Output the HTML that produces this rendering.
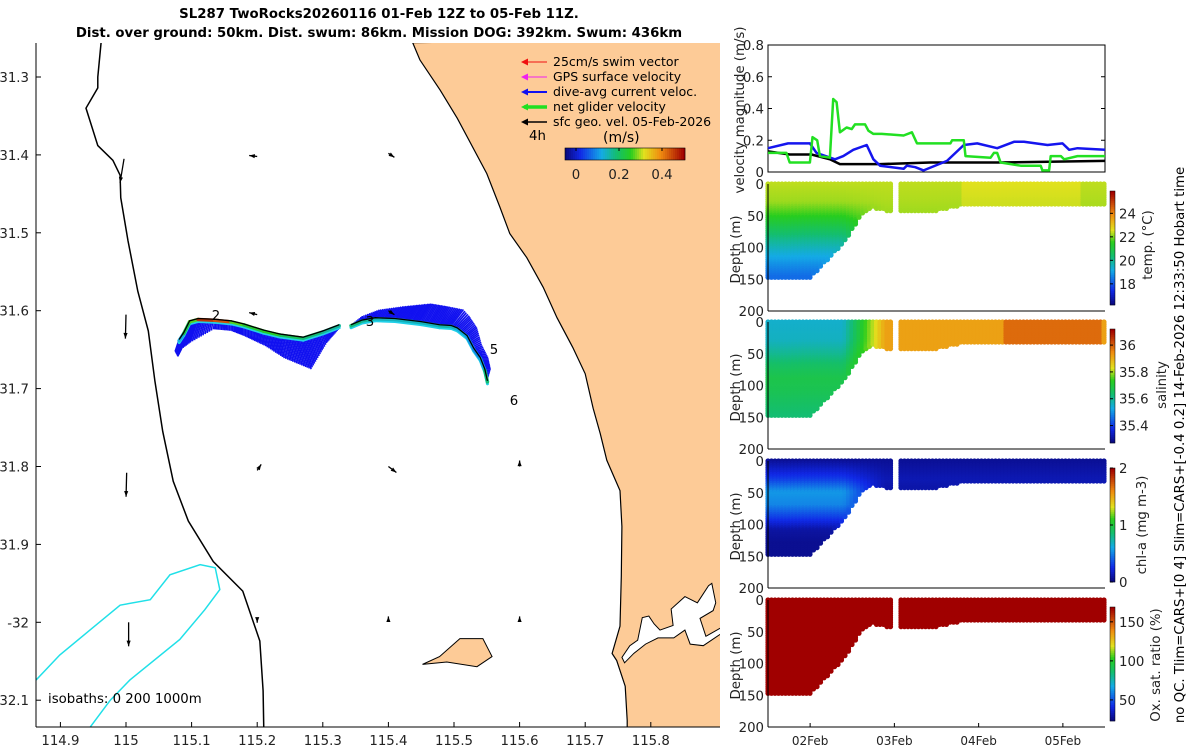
<!DOCTYPE html>
<html><head><meta charset="utf-8">
<style>
body{margin:0;background:#fff;}
svg{display:block;font-family:"DejaVu Sans","Liberation Sans",sans-serif;}
</style></head>
<body>
<svg id="fig" width="1200" height="750" viewBox="0 0 1200 750" xmlns="http://www.w3.org/2000/svg">
<g font-weight="bold" font-size="13.3" text-anchor="middle" fill="#000">
<text x="379" y="18">SL287 TwoRocks20260116 01-Feb 12Z to 05-Feb 11Z.</text>
<text x="379" y="37">Dist. over ground: 50km. Dist. swum: 86km. Mission DOG: 392km. Swum: 436km</text>
</g>
<g id="map"></g>
<g id="vel"></g>
<g id="sec"></g>
<text transform="translate(1184,445) rotate(-90)" text-anchor="middle" font-size="13.3">no QC. Tlim=CARS+[0 4] Slim=CARS+[-0.4 0.2] 14-Feb-2026 12:33:50 Hobart time</text>
</svg>
<script>
const NS="http://www.w3.org/2000/svg";
function mk(parent,tag,attrs,text){const e=document.createElementNS(NS,tag);for(const k in attrs)e.setAttribute(k,attrs[k]);if(text!==undefined)e.textContent=text;parent.appendChild(e);return e;}
const FS=13.3;
// ---------- MAP DATA ----------
const lonTicks=[114.9,115,115.1,115.2,115.3,115.4,115.5,115.6,115.7,115.8];
const latTicks=[31.3,31.4,31.5,31.6,31.7,31.8,31.9,32.0,32.1];
const latLabels=["31.3","31.4","31.5","31.6","31.7","31.8","31.9","-32","32.1"];
const coastLon=[115.437,115.448,115.479,115.505,115.550,115.570,115.585,115.611,115.636,115.657,115.681,115.700,115.712,115.723,115.733,115.753,115.756,115.755,115.753,115.741,115.748,115.761,115.764,115.764];
const coastLat=[31.256,31.278,31.317,31.353,31.424,31.467,31.501,31.532,31.570,31.609,31.647,31.681,31.725,31.758,31.792,31.831,31.877,31.941,32.005,32.040,32.049,32.082,32.126,32.16];
const rottLon=[115.452,115.478,115.509,115.544,115.558,115.535,115.489];
const rottLat=[32.054,32.044,32.021,32.021,32.044,32.057,32.051];
const estLon=[115.756,115.768,115.780,115.787,115.797,115.805,115.814,115.834,115.831,115.852,115.871,115.888,115.893,115.899,115.895,115.875,115.884,115.909,115.910,115.880,115.860,115.852,115.835,115.811,115.792,115.774,115.760];
const estLat=[32.045,32.030,32.023,31.994,31.992,32.002,32.010,32.004,31.983,31.967,31.975,31.953,31.950,31.975,31.985,31.995,32.018,32.006,32.013,32.030,32.028,32.010,32.020,32.020,32.028,32.040,32.052];
const iso200Lon=[114.962,114.957,114.957,114.939,114.957,114.980,114.991,114.992,115.003,115.018,115.034,115.044,115.056,115.072,115.095,115.133,115.178,115.204,115.209,115.210];
const iso200Lat=[31.256,31.300,31.314,31.340,31.388,31.407,31.426,31.455,31.510,31.575,31.626,31.690,31.755,31.819,31.870,31.922,31.960,32.024,32.088,32.136];
const iso1000Lon=[114.863,114.899,114.945,114.991,115.037,115.067,115.113,115.136,115.143,115.120,115.082,115.006,114.976,114.945];
const iso1000Lat=[32.074,32.042,32.010,31.978,31.971,31.939,31.926,31.930,31.958,31.984,32.022,32.074,32.100,32.135];
const trackLon=[115.081,115.088,115.097,115.110,115.135,115.160,115.180,115.210,115.235,115.270,115.300,115.325];
const trackLat=[31.637,31.628,31.613,31.610,31.611,31.613,31.617,31.625,31.630,31.634,31.626,31.618];
const trackSpd=[0.12,0.16,0.25,0.30,0.48,0.46,0.30,0.27,0.28,0.24,0.22,0.20];
const trackU=[-0.02,-0.03,-0.04,-0.04,-0.005,0.0,0.0,0.01,0.02,0.04,0.02,0.0];
const trackV=[-0.06,-0.12,-0.14,-0.12,-0.05,-0.05,-0.06,-0.08,-0.12,-0.16,-0.06,-0.02];
const track2Lon=[115.343,115.360,115.380,115.410,115.450,115.478,115.496,115.505,115.520,115.530,115.540,115.547,115.551];
const track2Lat=[31.618,31.612,31.609,31.610,31.614,31.618,31.619,31.622,31.632,31.648,31.660,31.675,31.690];
const track2Spd=[0.22,0.22,0.20,0.18,0.18,0.18,0.19,0.18,0.16,0.14,0.13,0.16,0.22];
const track2U=[0.0,0.0,0.02,0.04,0.05,0.05,0.06,0.06,0.05,0.04,0.04,0.03,0.0];
const track2V=[0.0,0.02,0.04,0.06,0.09,0.09,0.08,0.06,0.04,0.02,0.0,0.0,0.0];
const geoLon=[114.997,115.2,115.4,115.0,115.2,115.4,115.001,115.2,115.4,115.6,115.004,115.2,115.4,115.6];
const geoLat=[31.405,31.402,31.398,31.605,31.605,31.6,31.808,31.805,31.8,31.8,32.0,31.998,31.995,31.995];
const geoU=[-0.02,-0.04,0.03,-0.003,-0.04,0.03,-0.003,0.02,0.04,0.0,0.0,0.0,0.0,0.0];
const geoV=[-0.12,0.005,-0.02,-0.12,0.01,-0.02,-0.12,0.03,-0.03,0.03,-0.12,-0.01,0.01,0.01];

const X0=36,X1=720,Y0=43,Y1=727;
const lx=l=>126+(l-115)*656;
const ly=l=>77+(l-31.3)*779;
function jet(t){t=Math.max(0,Math.min(1,t));
 const s=[[0,[10,10,128]],[0.12,[16,40,230]],[0.3,[20,170,230]],[0.43,[20,190,110]],[0.55,[40,205,30]],[0.66,[225,225,30]],[0.8,[240,140,16]],[1,[160,0,0]]];
 for(let i=1;i<s.length;i++){if(t<=s[i][0]){const a=s[i-1],b=s[i],f=(t-a[0])/(b[0]-a[0]);return `rgb(${[0,1,2].map(k=>Math.round(a[1][k]+(b[1][k]-a[1][k])*f)).join(',')})`;}}return 'rgb(160,0,0)';}
function interp(xs,ys,x){if(x<=xs[0])return ys[0];for(let i=1;i<xs.length;i++)if(x<=xs[i]){const f=(x-xs[i-1])/(xs[i]-xs[i-1]);return ys[i-1]+(ys[i]-ys[i-1])*f;}return ys[ys.length-1];}

const map=document.getElementById('map');
const defs=mk(map,'defs',{});
const cp=mk(defs,'clipPath',{id:'mapclip'});mk(cp,'rect',{x:X0,y:Y0,width:X1-X0,height:Y1-Y0});
const mg=mk(map,'g',{'clip-path':'url(#mapclip)'});
let pts=coastLon.map((l,i)=>lx(l).toFixed(1)+','+ly(coastLat[i]).toFixed(1)).join(' ')+` ${X1+5},${Y1+30} ${X1+5},${Y0-5}`;
const land=mk(mg,'polygon',{points:pts,fill:'#fdcb97',stroke:'#000','stroke-width':1.2});

const est=mk(mg,'polygon',{points:estLon.map((l,i)=>lx(l)+','+ly(estLat[i])).join(' '),fill:'#fff',stroke:'#000','stroke-width':1});

const rot=mk(mg,'polygon',{points:rottLon.map((l,i)=>lx(l)+','+ly(rottLat[i])).join(' '),fill:'#fdcb97',stroke:'#000','stroke-width':1});

const i200=mk(mg,'polyline',{points:iso200Lon.map((l,i)=>lx(l)+','+ly(iso200Lat[i])).join(' '),fill:'none',stroke:'#000','stroke-width':1.5});

const i1000=mk(mg,'polyline',{points:iso1000Lon.map((l,i)=>lx(l)+','+ly(iso1000Lat[i])).join(' '),fill:'none',stroke:'#20e0e8','stroke-width':1.5});


function drawTrack(lons,lats,spd,us,vs,name){
 const g=mk(mg,'g',{});
 const xs=lons.map(lx),ys=lats.map(ly);
 for(let i=1;i<xs.length;i++){
  const n=Math.max(2,Math.round(Math.hypot(xs[i]-xs[i-1],ys[i]-ys[i-1])/1.5));
  for(let k=0;k<n;k++){const f=k/n;
   const x=xs[i-1]+(xs[i]-xs[i-1])*f,y=ys[i-1]+(ys[i]-ys[i-1])*f;
   const u=us[i-1]+(us[i]-us[i-1])*f,v=vs[i-1]+(vs[i]-vs[i-1])*f;
   mk(g,'line',{x1:x.toFixed(1),y1:y.toFixed(1),x2:(x+u*200).toFixed(1),y2:(y-v*200).toFixed(1),stroke:'#1010f0','stroke-width':1.6});
  }
 }
 for(let i=1;i<lons.length;i++){
  mk(g,'line',{x1:xs[i-1],y1:ys[i-1]+3,x2:xs[i],y2:ys[i]+3,stroke:'#20d0e8','stroke-width':3,'stroke-linecap':'round'});
 }
 for(let i=1;i<lons.length;i++){
  mk(g,'line',{x1:xs[i-1],y1:ys[i-1]+1,x2:xs[i],y2:ys[i]+1,stroke:jet(spd[i]/0.52),'stroke-width':3.5,'stroke-linecap':'round'});
 }
 mk(g,'polyline',{points:xs.map((x,i)=>x+','+ys[i]).join(' '),fill:'none',stroke:'#000','stroke-width':1.3});
}
drawTrack(trackLon,trackLat,trackSpd,trackU,trackV,'track-west');
drawTrack(track2Lon,track2Lat,track2Spd,track2U,track2V,'track-east');

for(let i=0;i<geoLon.length;i++){
 const x=lx(geoLon[i]),y=ly(geoLat[i]),x2=x+geoU[i]*200,y2=y-geoV[i]*200;
 const a=mk(mg,'g',{});
 
 
 mk(a,'line',{x1:x,y1:y,x2:x2,y2:y2,stroke:'#000','stroke-width':1.3});
 const ang=Math.atan2(y2-y,x2-x),h=6;
 mk(a,'polygon',{points:`${x2},${y2} ${x2-h*Math.cos(ang-0.35)},${y2-h*Math.sin(ang-0.35)} ${x2-h*Math.cos(ang+0.35)},${y2-h*Math.sin(ang+0.35)}`,fill:'#000'});
}
[["2",216,320],["3",370,326],["5",494,354],["6",514,405]].forEach(d=>{const t=mk(mg,'text',{x:d[1],y:d[2],'font-size':FS,'text-anchor':'middle'},d[0]);});
mk(mg,'text',{x:48,y:703,'font-size':FS},'isobaths: 0   200  1000m');

const lg=mk(map,'g',{});
[["25cm/s swim vector","#f01010",1],["GPS surface velocity","#f020f0",1],["dive-avg current veloc.","#1010f0",2],["net glider velocity","#20e020",3.5],["sfc geo. vel. 05-Feb-2026","#000",1.5]].forEach((e,i)=>{
 const y=62+i*15;const it=mk(lg,'g',{});
 mk(it,'line',{x1:524,y1:y,x2:547,y2:y,stroke:e[1],'stroke-width':e[2]});
 mk(it,'polygon',{points:`521,${y} 528,${y-3.5} 528,${y+3.5}`,fill:e[1]});
 mk(it,'text',{x:553,y:y+4,'font-size':12.5},e[0]);
});
mk(lg,'text',{x:529,y:140,'font-size':FS},'4h');
mk(lg,'text',{x:603,y:142,'font-size':14},'(m/s)');
for(let i=0;i<60;i++)mk(lg,'rect',{x:565+i*2,y:148,width:2.2,height:12,fill:jet(i/59)});
mk(lg,'rect',{x:565,y:148,width:120,height:12,fill:'none',stroke:'#000','stroke-width':0.6});
[["0",576],["0.2",619],["0.4",662]].forEach(t=>{mk(lg,'line',{x1:t[1],y1:148,x2:t[1],y2:151,stroke:'#000'});mk(lg,'text',{x:t[1],y:179,'font-size':FS,'text-anchor':'middle',fill:'#222'},t[0]);});

const ax=mk(map,'g',{});
mk(ax,'line',{x1:X0,y1:Y0,x2:X0,y2:Y1,stroke:'#000'});
mk(ax,'line',{x1:X0,y1:Y1,x2:X1,y2:Y1,stroke:'#000'});
lonTicks.forEach(l=>{const x=lx(l);mk(ax,'line',{x1:x,y1:Y1,x2:x,y2:Y1-5,stroke:'#000'});mk(ax,'text',{x:x,y:745,'font-size':FS,'text-anchor':'middle',fill:'#222'},String(l));});
latTicks.forEach((l,i)=>{const y=ly(l);mk(ax,'line',{x1:X0,y1:y,x2:X0+5,y2:y,stroke:'#000'});mk(ax,'text',{x:29,y:y+5,'font-size':FS,'text-anchor':'end',fill:'#222'},latLabels[i]);});

// ---------- VELOCITY PANEL ----------
const velTicks=[0,0.2,0.4,0.6,0.8];
const greenT=[0,0.218,0.258,0.497,0.528,0.584,0.616,0.735,0.774,0.814,0.854,0.933,0.993,1.033,1.152,1.192,1.251,1.35,1.609,1.708,1.768,2.165,2.185,2.324,2.344,2.642,2.681,2.721,2.761,2.999,3.237,3.257,3.337,3.356,3.476,3.515,3.674,4.0];
const greenV=[0.12,0.12,0.06,0.06,0.22,0.2,0.1,0.09,0.46,0.44,0.25,0.28,0.27,0.3,0.3,0.26,0.24,0.24,0.23,0.25,0.18,0.18,0.2,0.2,0.1,0.09,0.12,0.12,0.06,0.04,0.04,0.01,0.01,0.1,0.1,0.08,0.1,0.1];
const blueT=[0,0.238,0.497,0.576,0.795,0.894,1.013,1.172,1.251,1.33,1.609,1.648,1.748,1.847,2.125,2.324,2.483,2.721,2.92,3.039,3.317,3.496,3.575,3.674,4.0];
const blueV=[0.15,0.18,0.18,0.12,0.08,0.1,0.14,0.17,0.08,0.04,0.02,0.04,0.03,0.01,0.07,0.17,0.18,0.15,0.19,0.19,0.17,0.18,0.14,0.15,0.14];
const blackT=[0,0.258,0.516,0.735,0.854,1.33,1.927,2.721,4.0];
const blackV=[0.13,0.11,0.11,0.08,0.05,0.05,0.06,0.06,0.07];
const PX0=768,PX1=1105;
const tx=t=>PX0+t/4*(PX1-PX0);
const vel=document.getElementById('vel');
const vy=v=>172-v/0.8*127;
mk(vel,'rect',{x:PX0,y:45,width:PX1-PX0,height:127,fill:'#fff',stroke:'#000'});
velTicks.forEach(v=>{mk(vel,'line',{x1:PX0,y1:vy(v),x2:PX0+4,y2:vy(v),stroke:'#000'});mk(vel,'line',{x1:PX1,y1:vy(v),x2:PX1-4,y2:vy(v),stroke:'#000'});mk(vel,'text',{x:764,y:vy(v)+5,'font-size':FS,'text-anchor':'end',fill:'#222'},String(v));});
[[blackT,blackV,'#000','black-geo-line'],[blueT,blueV,'#1515ee','blue-current-line'],[greenT,greenV,'#22e022','green-glider-line']].forEach(s=>{
 const p=mk(vel,'polyline',{points:s[0].map((t,i)=>tx(t).toFixed(1)+','+vy(s[1][i]).toFixed(1)).join(' '),fill:'none',stroke:s[2],'stroke-width':2.5,'stroke-linejoin':'round'});
 
});
mk(vel,'text',{transform:'translate(744,110) rotate(-90)','font-size':FS,'text-anchor':'middle',fill:'#222'},'velocity magnitude (m/s)');

// ---------- SECTION PANELS ----------
const bottomT=[0,0.5,0.536,0.735,0.93,1.05,1.13,1.25,1.49];
const bottomD=[150,148,143,115,88,62,44,38,44];
const bottom2T=[1.57,1.9,2.32,4.0];
const bottom2D=[45,45,33,33];
const depthTicks=[0,50,100,150,200];
const dayTicks=[0.5,1.5,2.5,3.5];
const dayLabels=["02Feb","03Feb","04Feb","05Feb"];
const profD=[0,30,50,70,90,110,130,150];
const tempEarly=[22.4,22.2,21.6,20.8,20.0,19.3,18.7,18.2];
const tempLate=[22.4,22.3,22.2,22.2,22.2,22.2,22.2,22.2];
const salEarly=[35.55,35.56,35.60,35.65,35.68,35.67,35.65,35.63];
const salLate=[35.92,35.92,35.92,35.92,35.92,35.92,35.92,35.92];
const chlEarly=[0.05,0.3,0.55,0.5,0.3,0.08,0.04,0.04];
const chlLate=[0.05,0.12,0.08,0.05,0.05,0.05,0.05,0.05];
const oxEarly=[170,170,170,170,170,170,170,170];
const oxLate=[170,170,170,170,170,170,170,170];

function bottomAt(t){if(t<=1.49)return interp(bottomT,bottomD,t);if(t<1.57)return -1;return interp(bottom2T,bottom2D,t);}
const sec=document.getElementById('sec');
const panels=[
 {y0:184,name:'temperature-section',early:tempEarly,late:tempLate,lo:16.2,hi:25.9,ticks:[18,20,22,24],label:'temp. (°C)',lx:1152,ly:245},
 {y0:322,name:'salinity-section',early:salEarly,late:salLate,lo:35.27,hi:36.12,ticks:[35.4,35.6,35.8,36],label:'salinity',lx:1166,ly:385},
 {y0:461,name:'chlorophyll-section',early:chlEarly,late:chlLate,lo:0,hi:2,ticks:[0,1,2],label:'chl-a (mg m-3)',lx:1146,ly:525},
 {y0:600,name:'oxygen-section',early:oxEarly,late:oxLate,lo:23,hi:169,ticks:[50,100,150],label:'Ox. sat. ratio (%)',lx:1160,ly:665}
];
panels.forEach((p,pi)=>{
 const g=mk(sec,'g',{});
 const H=127,dy=d=>p.y0+d/200*H;
 const dots=mk(g,'g',{});
 for(let px=PX0;px<=PX1;px+=3.5){
  const t=(px-PX0)/(PX1-PX0)*4;const bd=bottomAt(t);if(bd<0)continue;
  const w=Math.max(0,Math.min(1,(t-0.9)/0.5));
  for(let d=0;d<=bd;d+=3.5){
   let v=interp(profD,p.early,d)*(1-w)+interp(profD,p.late,d)*w;
   if(pi===0&&t>2.3&&t<3.7)v+=0.2;
   if(pi===1&&t>2.8&&t<3.95)v+=0.07;
   mk(dots,'circle',{cx:px.toFixed(1),cy:dy(d).toFixed(1),r:2.6,fill:jet((v-p.lo)/(p.hi-p.lo))});
  }
 }
 mk(g,'line',{x1:PX0,y1:p.y0+H,x2:PX1,y2:p.y0+H,stroke:'#000'});
 mk(g,'line',{x1:PX0,y1:p.y0,x2:PX0,y2:p.y0+H,stroke:'#000'});
 depthTicks.forEach(d=>{mk(g,'text',{x:764,y:dy(d)+5,'font-size':FS,'text-anchor':'end',fill:'#222'},String(d));});
 mk(g,'text',{transform:`translate(740,${p.y0+H/2+2}) rotate(-90)`,'font-size':FS,'text-anchor':'middle',fill:'#222'},'Depth (m)');
 const cb=mk(g,'g',{});
 const cy0=p.y0+7,cy1=p.y0+121;
 for(let i=0;i<57;i++)mk(cb,'rect',{x:1110,y:cy1-(i+1)*2,width:5,height:2.2,fill:jet(i/56)});
 mk(cb,'rect',{x:1110,y:cy0,width:5,height:cy1-cy0,fill:'none',stroke:'#000','stroke-width':0.5});
 p.ticks.forEach(v=>{const y=cy1-(v-p.lo)/(p.hi-p.lo)*(cy1-cy0);mk(cb,'line',{x1:1110,y1:y,x2:1113,y2:y,stroke:'#000'});mk(cb,'text',{x:1119,y:y+5,'font-size':FS,fill:'#222'},String(v));});
 mk(g,'text',{transform:`translate(${p.lx},${p.ly}) rotate(-90)`,'font-size':FS,'text-anchor':'middle',fill:'#222'},p.label);
 if(pi===3){dayTicks.forEach((t,i)=>{const x=tx(t);mk(g,'line',{x1:x,y1:p.y0+H,x2:x,y2:p.y0+H-4,stroke:'#000'});mk(g,'text',{x:x,y:745,'font-size':12,'text-anchor':'middle',fill:'#222'},dayLabels[i]);});}
});
</script>
</body></html>
